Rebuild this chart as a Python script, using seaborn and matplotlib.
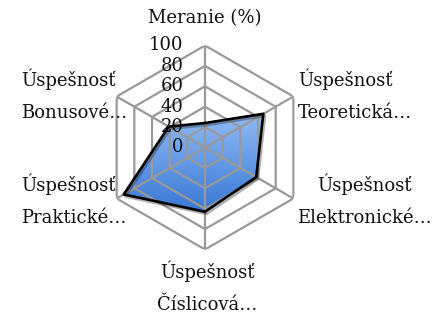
import numpy as np
import pandas as pd
import matplotlib
matplotlib.use("Agg")
import matplotlib.pyplot as plt
import matplotlib.patheffects as pe
from matplotlib.colors import LinearSegmentedColormap
from matplotlib.transforms import offset_copy
import seaborn as sns

# Data
categories = ["Meranie (%)", "Úspešnosť\nTeoretická…", "Úspešnosť\nElektronické…",
              "Úspešnosť\nČíslicová…", "Úspešnosť\nPraktické…", "Úspešnosť\nBonusové…"]
values = [24, 66, 58, 63, 92, 41]
r_ticks = [0, 20, 40, 60, 80, 100]

sns.set_theme(style="white")
plt.rcParams['font.family'] = ['DejaVu Serif']

fig = plt.figure(figsize=(4.41, 3.2), dpi=100)
# stred ~ (205, 147.5) px, polomer ~102 px
cx, cy, rad = 205 / 441, 1 - 147.5 / 320, 102
ax = fig.add_axes([cx - rad / 441, cy - rad / 320, 2 * rad / 441, 2 * rad / 320], projection='polar')
ax.set_theta_zero_location('N')
ax.set_theta_direction(-1)
ax.set_ylim(0, 100)
ax.grid(False)
ax.spines['polar'].set_visible(False)
ax.set_xticks([])
ax.set_yticks([])

angles = np.linspace(0, 2 * np.pi, len(categories), endpoint=False)
theta_closed = np.append(angles, angles[0])
vals_closed = np.array(values + values[:1], dtype=float)
df = pd.DataFrame({"theta": theta_closed, "value": vals_closed})

# gradient fill, clipped to the polygon
poly = ax.fill(df["theta"], df["value"], facecolor='none', edgecolor='none')[0]
tg, rg = np.meshgrid(np.linspace(0, 2 * np.pi, 361), np.linspace(0, 100, 101))
height = rg * np.cos(tg)
hv = vals_closed * np.cos(theta_closed)
cmap = LinearSegmentedColormap.from_list("fillblue", ["#3878d4", "#92bbf7"])
mesh = ax.pcolormesh(tg, rg, height, cmap=cmap, vmin=hv.min(), vmax=hv.max(),
                     shading='gouraud', zorder=1)
mesh.set_clip_path(poly)

# hexagonal grid
grid_color = "#999999"
for level in r_ticks[1:]:
    ax.plot(theta_closed, [level] * len(theta_closed), color=grid_color, lw=1.6, zorder=2)
for a in angles:
    ax.plot([a, a], [0, 100], color=grid_color, lw=1.6, zorder=2)

# series outline
sns.lineplot(data=df, x="theta", y="value", sort=False, estimator=None, color="black",
             lw=1.9, ax=ax, zorder=3,
             path_effects=[pe.SimpleLineShadow(offset=(1.2, -1.5), alpha=0.35), pe.Normal()])
ax.set_xlabel("")
ax.set_ylabel("")
ax.set_ylim(0, 100)

fs = 13
# radial tick labels along the top spoke
trans = offset_copy(ax.transData, fig=fig, x=-15.5, y=0, units='points')
for t in r_ticks:
    ax.text(0, t, str(t), transform=trans, ha='right', va='center', fontsize=fs,
            color="#111111", zorder=5)

# category labels: anchored at the outer vertex, shifted in pixels
place = [((0, 27), 'center', 'center', 'center'),
         ((5, 1), 'left', 'center', 'left'),
         ((4, -2), 'left', 'center', 'center'),
         ((2, -11), 'center', 'top', 'center'),
         ((10, -2), 'right', 'center', 'left'),
         ((11, 1), 'right', 'center', 'left')]
for a, lab, ((dx, dy), ha, va, ma) in zip(angles, categories, place):
    tr = offset_copy(ax.transData, fig=fig, x=dx * 0.72, y=dy * 0.72, units='points')
    ax.text(a, 100, lab, transform=tr, ha=ha, va=va, multialignment=ma, fontsize=fs,
            linespacing=2.0, color="#111111", clip_on=False)

fig.savefig("out.png", dpi=100)
